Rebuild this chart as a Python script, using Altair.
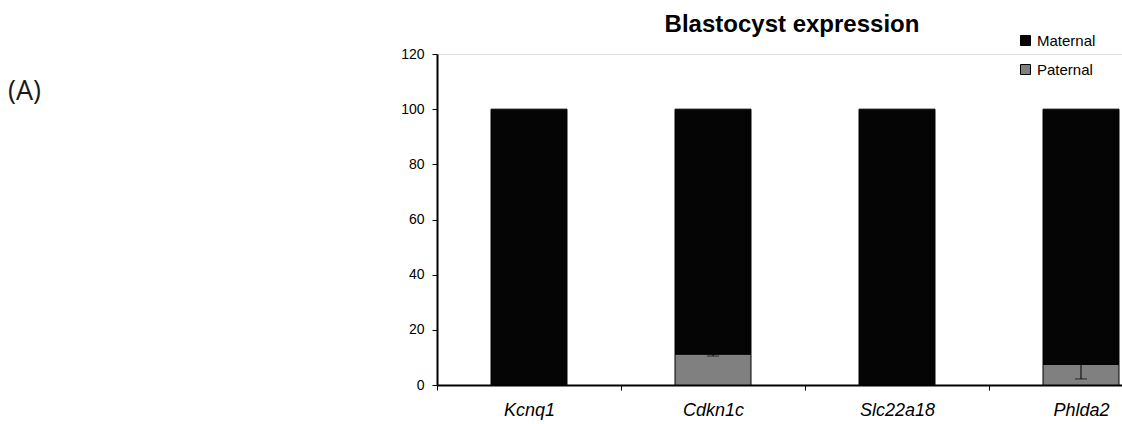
import altair as alt
import pandas as pd

genes = ["Kcnq1", "Cdkn1c", "Slc22a18", "Phlda2"]
paternal = [0.0, 11.2, 0.0, 7.5]
maternal = [100.0, 88.8, 100.0, 92.5]
paternal_sd = [0.0, 0.7, 0.0, 5.3]
series_names = ["Maternal", "Paternal"]
series_colors = ["#050505", "#808080"]
y_ticks = [0, 20, 40, 60, 80, 100, 120]
chart_title = "Blastocyst expression"
panel_label = "(A)"

rows = []
for g, p, m in zip(genes, paternal, maternal):
    rows.append({"gene": g, "series": "Paternal", "start": 0.0, "end": p})
    rows.append({"gene": g, "series": "Maternal", "start": p, "end": p + m})
bars_df = pd.DataFrame(rows)

err_df = pd.DataFrame({"gene": genes, "mean": paternal, "sd": paternal_sd})
err_df["low"] = err_df["mean"] - err_df["sd"]
err_df = err_df[err_df["sd"] > 0]

label_df = pd.DataFrame({"t": [panel_label]})

FONT = "Liberation Sans"

x_enc = alt.X(
    "gene:N",
    sort=genes,
    scale=alt.Scale(domain=genes, range=[0, 736], paddingInner=0, paddingOuter=0),
    axis=alt.Axis(
        title=None,
        labelAngle=0,
        labelFont=FONT,
        labelFontSize=18,
        labelFontStyle="italic",
        labelColor="black",
        labelBaseline="alphabetic",
        labelPadding=25,
        tickBand="extent",
        tickSize=5,
        tickColor="black",
        domainColor="black",
        domainWidth=2,
        grid=False,
    ),
)

bars = alt.Chart(bars_df).mark_bar(
    width=alt.RelativeBandSize(0.413), stroke="black", strokeWidth=1
).encode(
    x=x_enc,
    y=alt.Y(
        "start:Q",
        scale=alt.Scale(domain=[0, 120], nice=False),
        axis=alt.Axis(
            title=None,
            values=y_ticks,
            labelFont=FONT,
            labelFontSize=14,
            labelColor="black",
            labelPadding=8,
            tickSize=5,
            tickColor="black",
            domainColor="black",
            domainWidth=2,
            grid=False,
        ),
    ),
    y2="end:Q",
    color=alt.Color(
        "series:N",
        scale=alt.Scale(domain=series_names, range=series_colors),
        legend=alt.Legend(
            title=None,
            orient="none",
            legendX=581,
            legendY=-21,
            symbolType="square",
            symbolSize=100,
            symbolStrokeColor="black",
            symbolStrokeWidth=1,
            symbolOpacity=1,
            labelFont=FONT,
            labelFontSize=15,
            labelColor="black",
            labelOffset=4,
            rowPadding=13,
        ),
    ),
)

rules = alt.Chart(err_df).mark_rule(color="black", strokeWidth=1).encode(
    x=alt.X("gene:N", sort=genes), y="mean:Q", y2="low:Q"
)
caps = alt.Chart(err_df).mark_tick(color="black", size=12, thickness=1).encode(
    x=alt.X("gene:N", sort=genes), y="low:Q"
)

label = alt.Chart(label_df).mark_text(
    font="Open Sans", fontSize=27, color="#1a1a1a", align="left", baseline="alphabetic"
).encode(text="t:N", x=alt.value(-429), y=alt.value(46))

title_mark = alt.Chart(pd.DataFrame({"t": [chart_title]})).mark_text(
    font=FONT, fontSize=24, fontWeight="bold", color="black",
    align="center", baseline="alphabetic"
).encode(text="t:N", x=alt.value(355), y=alt.value(-22))

chart = alt.layer(bars, rules, caps, label, title_mark).properties(
    width=685,
    height=331,
    autosize=alt.AutoSizeParams(type="none"),
    padding={"left": 437, "top": 54, "right": 0, "bottom": 39},
).configure_view(stroke=None).configure(background="white")

chart.save("out.html", embed_options={"renderer": "svg", "actions": False})
